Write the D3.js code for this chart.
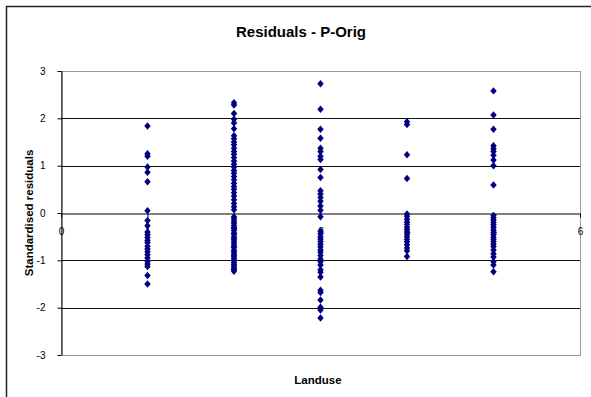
<!DOCTYPE html>
<html>
<head>
<meta charset="utf-8">
<script src="https://cdn.jsdelivr.net/npm/d3@7"></script>
<style>
  body { margin: 0; background: #fff; }
  text { font-family: "Liberation Sans", Arial, sans-serif; fill: #000; }
</style>
</head>
<body>
<div id="chart"></div>
<script>
// standardised residuals, one list per landuse class
const landuse1 = [1.84, 1.25, 1.2, 0.97, 0.86, 0.66, 0.05, -0.16, -0.27, -0.4, -0.46, -0.52, -0.58, -0.63, -0.7, -0.76, -0.82, -0.88, -0.95, -1.02, -1.08, -1.13, -1.32, -1.5];
const landuse2 = [2.33, 2.28, 2.1, 1.98, 1.9, 1.78, 1.63, 1.57, 1.5, 1.44, 1.37, 1.3, 1.24, 1.17, 1.1, 1.03, 0.97, 0.9, 0.84, 0.77, 0.7, 0.63, 0.56, 0.5, 0.43, 0.36, 0.28, 0.2, 0.13, 0.07,
  -0.08, -0.12, -0.17, -0.21, -0.26, -0.3, -0.33, -0.37, -0.42, -0.45, -0.5, -0.54, -0.57, -0.62, -0.66, -0.7, -0.73, -0.78, -0.82, -0.86, -0.9, -0.93, -0.97, -1.01, -1.05, -1.09, -1.13, -1.17, -1.2, -1.23];
const landuse3 = [2.73, 2.19, 1.77, 1.58, 1.37, 1.3, 1.2, 1.13, 0.92, 0.75, 0.47, 0.4, 0.33, 0.25, 0.15, 0.06, -0.08,
  -0.38, -0.44, -0.5, -0.55, -0.6, -0.66, -0.72, -0.78, -0.83, -0.9, -0.97, -1.03, -1.1, -1.2, -1.25, -1.35, -1.63, -1.68, -1.84, -1.99, -2.05, -2.22];
const landuse4 = [1.93, 1.87, 1.23, 0.73, -0.02, -0.07, -0.13, -0.19, -0.24, -0.3, -0.35, -0.4, -0.45, -0.5, -0.56, -0.61, -0.67, -0.74, -0.8, -0.92];
const landuse5 = [2.58, 2.07, 1.77, 1.42, 1.36, 1.3, 1.22, 1.12, 1.0, 0.59, -0.05, -0.1, -0.15, -0.2, -0.25, -0.3, -0.36, -0.41, -0.46, -0.51, -0.56, -0.61, -0.66, -0.71, -0.78, -0.86, -0.93, -1.03, -1.1, -1.24];

const xTicks = [0, 1, 2, 3, 4, 5, 6];
const yTicks = [-3, -2, -1, 0, 1, 2, 3];
const gridValues = [-2, -1, 1, 2];

const W = 591, H = 397;
const plot = { left: 61, right: 580, top: 71, bottom: 355 };

const points = [];
[landuse1, landuse2, landuse3, landuse4, landuse5].forEach((arr, i) => {
    arr.forEach(v => points.push({ x: i + 1, y: v }));
});

const x = d3.scaleLinear().domain([0, 6]).range([plot.left, plot.right]);
const y = d3.scaleLinear().domain([-3, 3]).range([plot.bottom, plot.top]);
const plainNum = d => String(d); // keep ascii hyphen like the original

const svg = d3.select("#chart").append("svg")
    .attr("width", W)
    .attr("height", H);

// outer chart frame (runs off right/bottom edge)
svg.append("rect")
    .attr("x", 6.5).attr("y", 6.5)
    .attr("width", W + 20).attr("height", H + 20)
    .attr("fill", "#fff")
    .attr("stroke", "#222")
    .attr("stroke-width", 1.5);

svg.append("text")
    .attr("x", 301).attr("y", 37)
    .attr("text-anchor", "middle")
    .style("font-size", "15px")
    .style("font-weight", "bold")
    .text("Residuals - P-Orig");

// plot area border
svg.append("rect")
    .attr("x", plot.left + 0.5).attr("y", plot.top + 0.5)
    .attr("width", plot.right - plot.left).attr("height", plot.bottom - plot.top)
    .attr("fill", "none")
    .attr("stroke", "#9a9a9a");

// gridlines
svg.append("g").selectAll("line")
    .data(gridValues)
    .enter().append("line")
    .attr("x1", plot.left).attr("x2", plot.right)
    .attr("y1", d => Math.round(y(d)) + 0.5)
    .attr("y2", d => Math.round(y(d)) + 0.5)
    .attr("stroke", "#111");

// y axis
const yAxis = svg.append("g")
    .attr("transform", `translate(${plot.left + 0.5},0)`)
    .call(d3.axisLeft(y).tickValues(yTicks).tickFormat(plainNum).tickSize(4).tickSizeOuter(0).tickPadding(12));
yAxis.select(".domain").attr("stroke", "#000");
yAxis.selectAll(".tick line").attr("stroke", "#000");
yAxis.selectAll("text")
    .style("font-size", "10px")
    .style("font-family", "Liberation Sans, Arial, sans-serif");

// x axis crossing at y = 0
const xAxis = svg.append("g")
    .attr("transform", `translate(0,${Math.round(y(0)) + 0.5})`)
    .call(d3.axisBottom(x).tickValues(xTicks).tickFormat(plainNum).tickSize(4).tickSizeOuter(0).tickPadding(10));
xAxis.select(".domain").attr("stroke", "#000");
xAxis.selectAll(".tick line").attr("stroke", "#000");
xAxis.selectAll("text")
    .style("font-size", "10px")
    .style("font-family", "Liberation Sans, Arial, sans-serif");

// diamond marker
const diamond = {
    draw(ctx, size) {
        const h = Math.sqrt(size) / 2;
        ctx.moveTo(0, -h * 1.1);
        ctx.lineTo(h * 0.95, 0);
        ctx.lineTo(0, h * 1.1);
        ctx.lineTo(-h * 0.95, 0);
        ctx.closePath();
    }
};

svg.append("g").selectAll("path")
    .data(points)
    .enter().append("path")
    .attr("transform", d => `translate(${x(d.x)},${y(d.y)})`)
    .attr("d", d3.symbol().type(diamond).size(46))
    .attr("fill", "#000080");

svg.append("text")
    .attr("x", 318).attr("y", 384)
    .attr("text-anchor", "middle")
    .style("font-size", "11.5px")
    .style("font-weight", "bold")
    .text("Landuse");

svg.append("text")
    .attr("transform", `translate(33,${(plot.top + plot.bottom) / 2}) rotate(-90)`)
    .attr("text-anchor", "middle")
    .style("font-size", "11.5px")
    .style("font-weight", "bold")
    .text("Standardised residuals");
</script>
</body>
</html>
